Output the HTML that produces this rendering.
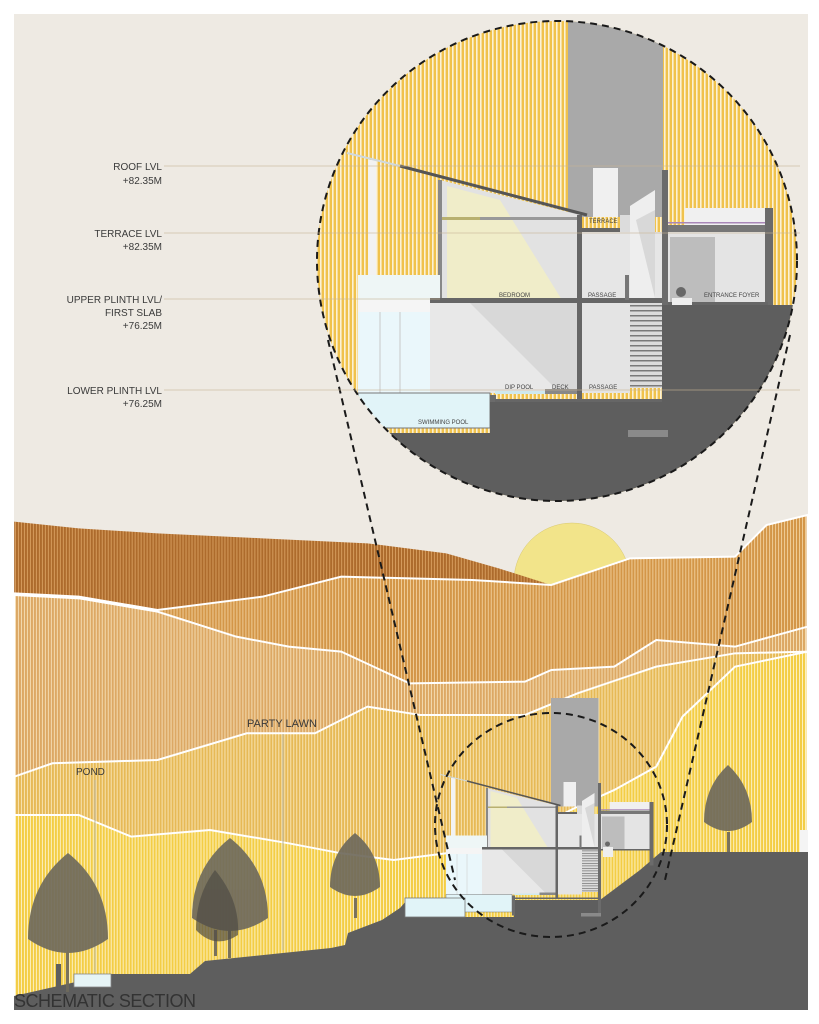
<!DOCTYPE html>
<html><head><meta charset="utf-8"><style>html,body{margin:0;padding:0;background:#fff}svg{display:block}text{font-family:"Liberation Sans",sans-serif}</style></head>
<body>
<svg width="819" height="1024" viewBox="0 0 819 1024" xmlns="http://www.w3.org/2000/svg">
<defs>
<pattern id="pA" patternUnits="userSpaceOnUse" width="5.7" height="10"><rect width="5.7" height="10" fill="#ad6b2c"/><rect width="1.9" height="10" fill="#d59b5c"/></pattern>
<pattern id="pB" patternUnits="userSpaceOnUse" width="5.7" height="10"><rect width="5.7" height="10" fill="#d39648"/><rect width="1.9" height="10" fill="#efcb95"/></pattern>
<pattern id="pC" patternUnits="userSpaceOnUse" width="5.7" height="10"><rect width="5.7" height="10" fill="#dca864"/><rect width="1.9" height="10" fill="#f4dbb0"/></pattern>
<pattern id="pD" patternUnits="userSpaceOnUse" width="5.7" height="10"><rect width="5.7" height="10" fill="#e6b956"/><rect width="1.9" height="10" fill="#f8e3b0"/></pattern>
<pattern id="pE" patternUnits="userSpaceOnUse" width="5.7" height="10"><rect width="5.7" height="10" fill="#f3cd45"/><rect width="1.9" height="10" fill="#fcf0c0"/></pattern>
<pattern id="pY" patternUnits="userSpaceOnUse" width="4" height="10"><rect width="4" height="10" fill="#f0c24c"/><rect width="1.6" height="10" fill="#fbf1d6"/></pattern>
<pattern id="stair" patternUnits="userSpaceOnUse" width="10" height="5"><rect width="10" height="5" fill="#dcdcdc"/><rect width="10" height="1.5" fill="#7a7a7a"/></pattern>
<clipPath id="bigc"><circle cx="557" cy="261" r="240"/></clipPath>
<g id="bld">
 <rect x="568" y="0" width="95" height="217" fill="#a9a9a9"/>
 <rect x="593" y="168" width="25" height="49" fill="#f0f0f0"/>
 <rect x="368" y="160" width="8" height="120" fill="#f2f2f2"/>
 <polygon points="440,180 580,215 580,300 440,300" fill="#e2e2e2"/>
 <polygon points="447,186 500,200 562,300 447,300" fill="#f2efc4" opacity="0.85"/>
 <rect x="440" y="217" width="140" height="3" fill="#999"/>
 <rect x="440" y="217" width="40" height="3" fill="#b8b070"/>
 <rect x="438" y="180" width="4" height="120" fill="#888"/>
 <rect x="358" y="275" width="82" height="25" fill="#eef6f6"/>
 <line x1="347" y1="153" x2="400" y2="166" stroke="#cfd8dc" stroke-width="2"/>
 <line x1="400" y1="166" x2="587" y2="215" stroke="#555" stroke-width="3"/>
 <rect x="358" y="303" width="220" height="90" fill="#d8d8d8"/>
 <polygon points="430,303 470,303 560,393 430,393" fill="#e8e8e8"/>
 <rect x="358" y="312" width="72" height="81" fill="#eaf7fb"/>
 <line x1="380" y1="312" x2="380" y2="393" stroke="#c8c8c8"/>
 <line x1="400" y1="312" x2="400" y2="393" stroke="#c8c8c8"/>
 <rect x="358" y="300" width="72" height="12" fill="#f5f5f5"/>
 <rect x="430" y="298" width="233" height="5" fill="#666"/>
 <rect x="577" y="215" width="5" height="187" fill="#666"/>
 <rect x="582" y="232" width="80" height="66" fill="#e6e6e6"/>
 <polygon points="630,206 655,190 655,298 630,298" fill="#eeeeee"/>
 <polygon points="636,220 655,210 655,298" fill="#d8d8d8"/>
 <rect x="582" y="228" width="40" height="4" fill="#666"/>
 <rect x="620" y="215" width="10" height="17" fill="#dcdcdc"/>
 <rect x="582" y="303" width="48" height="90" fill="#e4e4e4"/>
 <rect x="630" y="303" width="32" height="85" fill="url(#stair)"/>
 <rect x="625" y="275" width="4" height="25" fill="#777"/>
 <rect x="662" y="170" width="6" height="267" fill="#6b6b6b"/>
 <rect x="628" y="430" width="40" height="7" fill="#8a8a8a"/>
 <rect x="668" y="232" width="105" height="71" fill="#e4e4e4"/>
 <rect x="670" y="237" width="45" height="66" fill="#bdbdbd"/>
 <rect x="685" y="208" width="82" height="17" fill="#f0f0f0"/>
 <rect x="668" y="222" width="100" height="1.5" fill="#a987b8"/>
 <rect x="668" y="225" width="105" height="7" fill="#777"/>
 <rect x="765" y="208" width="8" height="127" fill="#6b6b6b"/>
 <rect x="668" y="302" width="100" height="3" fill="#666"/>
 <rect x="672" y="298" width="20" height="20" fill="#eee"/>
 <circle cx="681" cy="292" r="5" fill="#444" opacity="0.7"/>
 <rect x="358" y="393" width="132" height="35" fill="#e1f4f8" stroke="#777" stroke-width="1"/>
 <rect x="490" y="395" width="6" height="40" fill="#6b6b6b"/>
 <rect x="495" y="391" width="50" height="3" fill="#cfe9ef"/>
 <rect x="545" y="389" width="32" height="5" fill="#888"/>
 <rect x="495" y="399" width="167" height="3" fill="#666"/>
</g>
</defs>
<rect x="14" y="14" width="794" height="996" fill="#eeeae3"/>
<circle cx="572" cy="581" r="58" fill="#f2e48a" stroke="#d8c870" stroke-width="0.5"/>
<g transform="translate(0,500) scale(0.525,0.3333)">
 <polygon fill="url(#pA)" points="27,65 150,85 300,100 500,115 700,130 850,160 950,205 1050,255 900,240 650,230 500,290 300,330 150,290 27,280"/>
 <polygon fill="url(#pB)" stroke="#fff" stroke-width="2" vector-effect="non-scaling-stroke" points="27,280 150,290 300,330 500,290 650,230 900,240 1050,255 1200,175 1400,170 1460,75 1538,45 1538,1530 27,1530"/>
 <polygon fill="url(#pC)" stroke="#fff" stroke-width="2" vector-effect="non-scaling-stroke" points="27,285 150,295 300,335 450,410 550,440 650,455 780,550 1000,545 1050,510 1170,500 1250,420 1400,440 1538,380 1538,1530 27,1530"/>
 <polygon fill="url(#pD)" stroke="#fff" stroke-width="2" vector-effect="non-scaling-stroke" points="27,830 100,790 300,780 470,700 600,700 700,620 800,645 1000,645 1100,580 1250,500 1400,460 1538,455 1538,1530 27,1530"/>
 <polygon fill="url(#pE)" stroke="#fff" stroke-width="2" vector-effect="non-scaling-stroke" points="27,945 150,945 250,1010 400,990 550,1030 650,1060 750,1080 850,1060 1000,1000 1100,920 1170,870 1250,800 1300,650 1400,500 1538,455 1538,1530 27,1530"/>
</g>
<polygon fill="#5e5e5e" points="14,996 111,974 190,974 205,961 331,948 345,945 348,933 382,920 400,908 407,900 412,917 514,917 514,900 600,900 640,870 661,852 808,852 808,1010 14,1010"/>
<rect x="74" y="974" width="37" height="13" fill="#e6f4f6" stroke="#888" stroke-width="0.8"/>
<rect x="56" y="964" width="5" height="30" fill="#5e5e5e"/>
<rect x="800" y="830" width="8" height="22" fill="#f4f4f4"/>
<line x1="95" y1="780" x2="95" y2="972" stroke="#b8b8a8" stroke-width="1"/>
<line x1="283" y1="734" x2="283" y2="950" stroke="#b8b8a8" stroke-width="1"/>
<text x="76" y="775" font-size="10" fill="#3a3a3a">POND</text>
<text x="247" y="727" font-size="11" fill="#3a3a3a">PARTY LAWN</text>
<g fill="#6f6a5c" opacity="0.92">
 <path d="M68,853 Q108,885 108,939 Q68,967 28,939 Q28,885 68,853Z"/><rect x="66" y="950" width="3" height="42"/>
 <path d="M230,838 Q268,868 268,918 Q230,944 192,918 Q192,868 230,838Z"/><rect x="228" y="930" width="3" height="28"/><rect x="214" y="930" width="3" height="26"/>
 <path d="M355,833 Q380,853 380,887 Q355,905 330,887 Q330,853 355,833Z"/><rect x="354" y="898" width="3" height="20"/>
 <path d="M728,765 Q752,787 752,822 Q728,840 704,822 Q704,787 728,765Z"/><rect x="727" y="832" width="3" height="20"/>
</g>
<path d="M215,870 Q240,900 238,935 Q215,950 196,930 Q196,895 215,870Z" fill="#4e4b44" opacity="0.7"/>
<use href="#bld" transform="translate(545.5,827) scale(0.5) translate(-557,-258)"/>
<rect x="405" y="898" width="60" height="19" fill="#e1f4f8" stroke="#777" stroke-width="0.8"/>
<ellipse cx="551" cy="825" rx="116" ry="112" fill="none" stroke="#1a1a1a" stroke-width="2" stroke-dasharray="7,5"/>
<line x1="328" y1="340" x2="455" y2="880" stroke="#1a1a1a" stroke-width="2" stroke-dasharray="7,5"/>
<line x1="790" y1="335" x2="665" y2="880" stroke="#1a1a1a" stroke-width="2" stroke-dasharray="7,5"/>
<g clip-path="url(#bigc)">
 <rect x="310" y="14" width="500" height="500" fill="url(#pY)"/>
 <use href="#bld"/>
 <polygon fill="#5e5e5e" points="300,433 490,433 490,402 662,402 662,305 800,305 800,520 300,520"/>
 <rect x="628" y="430" width="40" height="7" fill="#8a8a8a"/>
</g>
<circle cx="557" cy="261" r="240" fill="none" stroke="#1a1a1a" stroke-width="2" stroke-dasharray="7,5"/>
<g stroke="#c9b596" stroke-width="0.8" opacity="0.8">
 <line x1="164" y1="166" x2="800" y2="166"/>
 <line x1="164" y1="233" x2="800" y2="233"/>
 <line x1="164" y1="299" x2="440" y2="299"/>
 <line x1="164" y1="390" x2="800" y2="390"/>
</g>
<g font-size="10" fill="#3a3a3a" text-anchor="end">
 <text x="162" y="170">ROOF LVL</text><text x="162" y="184">+82.35M</text>
 <text x="162" y="237">TERRACE LVL</text><text x="162" y="250">+82.35M</text>
 <text x="162" y="303">UPPER PLINTH LVL/</text><text x="162" y="316">FIRST SLAB</text><text x="162" y="329">+76.25M</text>
 <text x="162" y="394">LOWER PLINTH LVL</text><text x="162" y="407">+76.25M</text>
</g>
<g font-size="6" fill="#444">
 <text x="589" y="223">TERRACE</text>
 <text x="499" y="297">BEDROOM</text>
 <text x="588" y="297">PASSAGE</text>
 <text x="704" y="297">ENTRANCE FOYER</text>
 <text x="505" y="389">DIP POOL</text>
 <text x="552" y="389">DECK</text>
 <text x="589" y="389">PASSAGE</text>
 <text x="418" y="424">SWIMMING POOL</text>
</g>
<text x="14" y="1007" font-size="18" fill="#333" textLength="182">SCHEMATIC SECTION</text>
</svg>
</body></html>
